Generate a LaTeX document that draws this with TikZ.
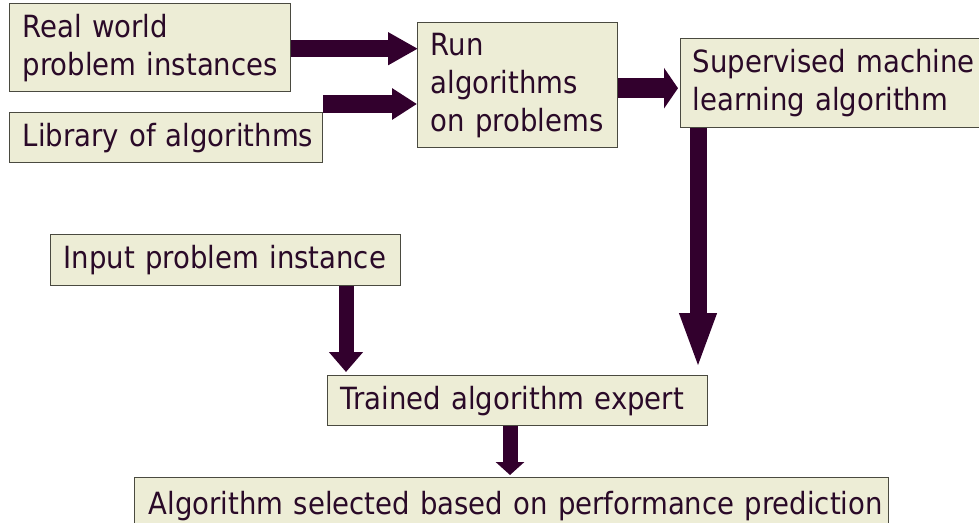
\documentclass[tikz,border=0pt]{standalone}
\usepackage{fontspec}
\setmainfont{DejaVu Sans}[FakeStretch=0.9]
\usetikzlibrary{arrows.meta}

\definecolor{boxfill}{HTML}{EDEDD6}
\definecolor{boxline}{HTML}{4A4A40}
\definecolor{ink}{HTML}{2A0A28}
\definecolor{flow}{HTML}{32002D}

% one unbreakable line of box text
\newcommand{\boxline}[1]{\mbox{#1}}

\tikzset{
  stagebox/.style={draw=boxline, line width=1.4pt, fill=boxfill, text=ink,
    anchor=north west, align=left, inner xsep=13pt, inner ysep=0pt,
    font=\fontsize{30.6pt}{38pt}\selectfont},
  flowarrow/.style={draw=flow, line width=#1},
  flowarrow/.default=17pt
}

\begin{document}
\begin{tikzpicture}[x=1pt, y=-1pt]
  \useasboundingbox (0,0) rectangle (979,522);

  % boxes (top-left corner, width, height)
  \node[stagebox, text width=255pt, minimum height=88pt] (real) at (9,3)
    {\boxline{Real world}\\\boxline{problem instances}};
  \node[stagebox, text width=287pt, minimum height=50pt] (lib) at (9,112)
    {\boxline{Library of algorithms}};
  \node[stagebox, text width=174pt, minimum height=125pt] (run) at (417,22)
    {\boxline{Run}\\\boxline{algorithms}\\\boxline{on problems}};
  \node[stagebox, inner xsep=12pt, text width=275pt, minimum height=89pt] (sup) at (680,38)
    {\boxline{Supervised machine}\\\boxline{learning algorithm}};
  \node[stagebox, text width=324pt, minimum height=51pt] (inp) at (50,234)
    {\boxline{Input problem instance}};
  \node[stagebox, text width=354pt, minimum height=50pt] (exp) at (327,375)
    {\boxline{Trained algorithm expert}};
  \node[stagebox, inner xsep=14pt, text width=726pt, minimum height=56pt] (sel) at (134,477)
    {\boxline{Algorithm selected based on performance prediction}};

  % connectors
  \draw[flowarrow=17pt, -{Triangle[length=30pt, width=31pt]}, shorten >=-1pt]
    ([yshift=-1pt]real.east) -- ([yshift=-1pt]real.east -| run.west);
  \draw[flowarrow=18pt, -{Triangle[length=25pt, width=30pt]}]
    ([yshift=8pt]lib.north east) -- ([yshift=8pt]lib.north east -| run.west);
  \draw[flowarrow=20pt, -{Triangle[length=14pt, width=40pt]}, shorten >=2pt]
    ([yshift=-3pt]run.east) -- ([yshift=-3pt]run.east -| sup.west);
  \draw[flowarrow=17pt, -{Triangle[length=57pt, width=33pt]}, shorten >=5pt]
    ([xshift=18pt]sup.south west) -- ([xshift=18pt]sup.south west |- exp.north);
  \draw[flowarrow=15pt, -{Triangle[length=20pt, width=33pt]}, shorten >=3pt]
    (inp.south -| exp.north west) ++(19pt,0) coordinate (inpdrop)
    (inpdrop) -- (inpdrop |- exp.north);
  \draw[flowarrow=15pt, -{Triangle[length=13pt, width=28pt]}, shorten >=2pt]
    ([xshift=183pt]exp.south west) -- ([xshift=183pt]exp.south west |- sel.north);
\end{tikzpicture}
\end{document}
